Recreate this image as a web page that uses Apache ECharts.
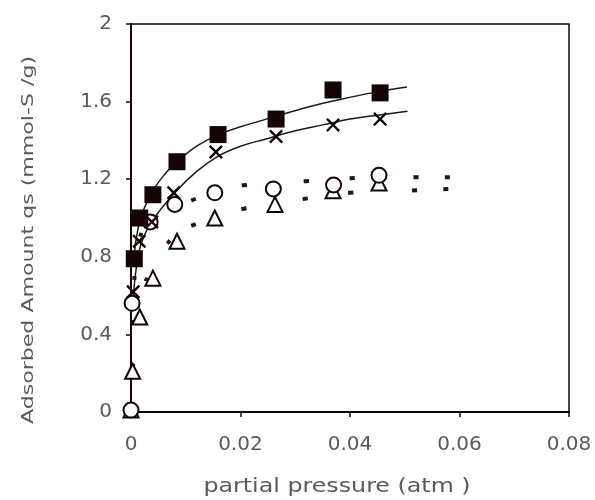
<!DOCTYPE html>
<html>
<head>
<meta charset="utf-8">
<script src="https://cdn.jsdelivr.net/npm/echarts@6/dist/echarts.min.js"></script>
<style>html,body{margin:0;padding:0;background:#fff}#c{width:595px;height:500px}</style>
</head>
<body>
<div id="c"></div>
<script>
// Axis ticks
var xTicks = [0, 0.02, 0.04, 0.06, 0.08];
var yTicks = [0, 0.4, 0.8, 1.2, 1.6, 2];

// Measured points: [partial pressure, adsorbed amount]
var squarePts = [[0.0006, 0.79], [0.0016, 1.0], [0.004, 1.12], [0.0084, 1.29], [0.0159, 1.43], [0.0265, 1.51], [0.0369, 1.66], [0.0455, 1.645]];
var crossPts = [[0.0004, 0.62], [0.0015, 0.88], [0.0038, 0.98], [0.0078, 1.13], [0.0155, 1.34], [0.0265, 1.42], [0.0369, 1.48], [0.0455, 1.51]];
var circlePts = [[0, 0.01], [0.0002, 0.56], [0.0035, 0.98], [0.008, 1.07], [0.0153, 1.13], [0.026, 1.15], [0.037, 1.17], [0.0453, 1.22]];
var trianglePts = [[0, 0.01], [0.0003, 0.21], [0.0016, 0.49], [0.004, 0.69], [0.0084, 0.88], [0.0153, 1.0], [0.0263, 1.07], [0.0369, 1.14], [0.0453, 1.18]];

// Fitted curves (solid)
var squareFit = [[0.0005, 0.78], [0.001, 0.9], [0.002, 1.02], [0.004, 1.14], [0.006, 1.22], [0.008, 1.28], [0.012, 1.37], [0.016, 1.43], [0.02, 1.47], [0.026, 1.52], [0.032, 1.57], [0.038, 1.61], [0.044, 1.645], [0.0504, 1.675]];
var crossFit = [[0.0003, 0.55], [0.001, 0.75], [0.002, 0.88], [0.004, 0.99], [0.008, 1.13], [0.012, 1.24], [0.016, 1.32], [0.02, 1.37], [0.025, 1.41], [0.03, 1.45], [0.035, 1.48], [0.04, 1.51], [0.045, 1.53], [0.0505, 1.55]];
// Fitted curves (dotted): steep part and flat part
var circleFitSteep = [[0, 0], [0.0005, 0.6], [0.001, 0.8], [0.002, 0.93], [0.004, 1.02], [0.007, 1.07], [0.011, 1.09]];
var circleFitFlat = [[0.011, 1.09], [0.016, 1.14], [0.021, 1.17], [0.032, 1.19], [0.04, 1.205], [0.05, 1.21], [0.0587, 1.21]];
var triangleFitSteep = [[0, 0], [0.0005, 0.3], [0.001, 0.48], [0.002, 0.62], [0.004, 0.75], [0.007, 0.88], [0.011, 0.96]];
var triangleFitFlat = [[0.011, 0.96], [0.016, 1.01], [0.021, 1.05], [0.032, 1.1], [0.04, 1.13], [0.05, 1.14], [0.0587, 1.15]];

var xName = 'partial pressure (atm )';
var yName = 'Adsorbed Amount qs (mmol-S /g)';

var crossPath = 'path://M0,1.2L1.2,0L5,3.8L8.8,0L10,1.2L6.2,5L10,8.8L8.8,10L5,6.2L1.2,10L0,8.8L3.8,5Z';
var ink = '#140404';
var labelColor = '#5a5a5a';
var font = '"DejaVu Sans", Verdana, sans-serif';
var flatDots = [5, 48, 5, 57, 5, 41, 5, 59, 5, 26, 5, 200];

function fitLine(data, dash) {
  return {
    type: 'line', data: data, smooth: 0.4, showSymbol: false, silent: true, z: 2,
    lineStyle: dash ? { color: '#1a1a1a', width: 4, type: dash, cap: 'butt', opacity: 1 } : { color: '#1a1a1a', width: 1.5, opacity: 1 }
  };
}
function scatter(data, symbol, size, style, z) {
  style.opacity = 1;
  return { type: 'scatter', data: data, symbol: symbol, symbolSize: size, itemStyle: style, z: z || 3 };
}

var chart = echarts.init(document.getElementById('c'), null, { renderer: 'canvas' });
chart.setOption({
  animation: false,
  backgroundColor: '#fff',
  grid: { left: 131, right: 26, top: 24, bottom: 88, show: true, borderColor: ink, borderWidth: 1.5, backgroundColor: 'transparent' },
  xAxis: {
    type: 'value', min: xTicks[0], max: xTicks[xTicks.length - 1], interval: xTicks[1] - xTicks[0],
    axisLine: { lineStyle: { color: ink, width: 2 } },
    axisTick: { show: true, length: 5, lineStyle: { color: ink, width: 1.5 } },
    axisLabel: { color: labelColor, fontSize: 20, fontFamily: font, margin: 23 },
    splitLine: { show: false }
  },
  yAxis: {
    type: 'value', min: yTicks[0], max: yTicks[yTicks.length - 1], interval: yTicks[1] - yTicks[0],
    axisLine: { lineStyle: { color: ink, width: 2 } },
    axisTick: { show: true, length: 5, lineStyle: { color: ink, width: 1.5 } },
    axisLabel: { color: labelColor, fontSize: 20, fontFamily: font, margin: 19 },
    splitLine: { show: false }
  },
  graphic: [
    { type: 'text', x: 337, y: 487, scaleX: 1.25, silent: true,
      style: { text: xName, fill: labelColor, font: '19px ' + font, textAlign: 'center', textVerticalAlign: 'middle' } },
    { type: 'text', x: 29, y: 240, rotation: Math.PI / 2, scaleX: 1.38, silent: true,
      style: { text: yName, fill: labelColor, font: '16px ' + font, textAlign: 'center', textVerticalAlign: 'middle' } }
  ],
  series: [
    fitLine(circleFitSteep, [4, 40]),
    fitLine(circleFitFlat, flatDots),
    fitLine(triangleFitSteep, [4, 40]),
    fitLine(triangleFitFlat, flatDots),
    fitLine(squareFit, null),
    fitLine(crossFit, null),
    scatter(trianglePts, 'triangle', 15, { color: '#fff', borderColor: ink, borderWidth: 2 }, 3),
    scatter(circlePts, 'circle', 15, { color: '#fff', borderColor: ink, borderWidth: 2 }, 4),
    scatter(crossPts, crossPath, 14, { color: ink }, 5),
    scatter(squarePts, 'rect', 17, { color: ink }, 6)
  ]
});
</script>
</body>
</html>
